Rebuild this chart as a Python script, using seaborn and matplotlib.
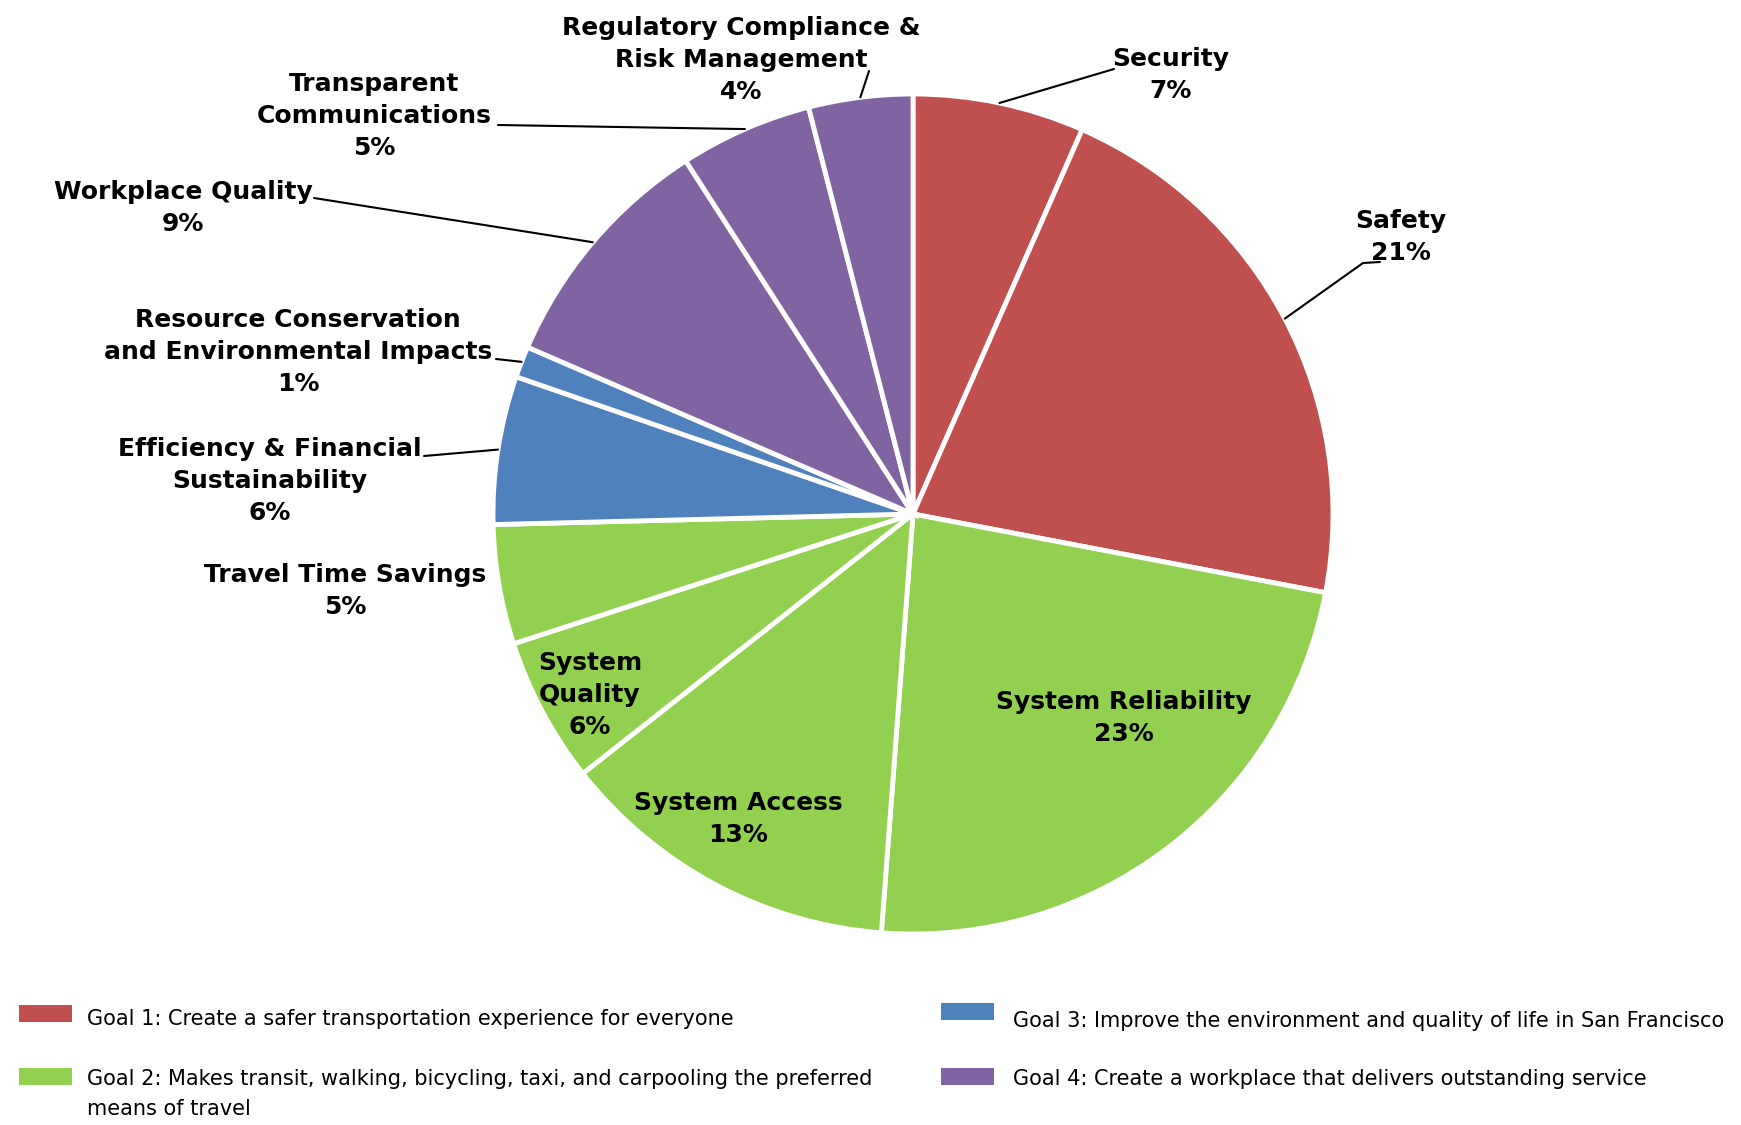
import matplotlib
matplotlib.use("Agg")
import matplotlib.pyplot as plt
from matplotlib.patches import Rectangle
import numpy as np
import seaborn as sns

# Category names and shares (percent), clockwise from 12 o'clock
categories = [
    "Security", "Safety", "System Reliability", "System Access",
    "System\nQuality", "Travel Time Savings",
    "Efficiency & Financial\nSustainability",
    "Resource Conservation\nand Environmental Impacts",
    "Workplace Quality", "Transparent\nCommunications",
    "Regulatory Compliance &\nRisk Management",
]
shares = [6.6, 21.4, 23.2, 13.2, 5.6, 4.6, 5.7, 1.2, 9.4, 5.1, 4.0]
goal_of = [1, 1, 2, 2, 2, 2, 3, 3, 4, 4, 4]

goal_labels = [
    "Goal 1: Create a safer transportation experience for everyone",
    "Goal 2: Makes transit, walking, bicycling, taxi, and carpooling the preferred\nmeans of travel",
    "Goal 3: Improve the environment and quality of life in San Francisco",
    "Goal 4: Create a workplace that delivers outstanding service",
]
goal_colors = {1: "#C0504D", 2: "#92D050", 3: "#4F81BD", 4: "#8064A2"}

sns.set_style("white")
plt.rcParams["font.family"] = ["DejaVu Sans"]

W, H = 1741, 1125
fig = plt.figure(figsize=(W / 100, H / 100), dpi=100)
ax = fig.add_axes([0, 0, 1, 1])


def Y(y):
    return H - y


cx, cy, r = 913, Y(514), 420
colors = [goal_colors[g] for g in goal_of]
wedges, _ = ax.pie(
    shares, colors=colors, startangle=90, counterclock=False,
    center=(cx, cy), radius=r, frame=True,
    wedgeprops=dict(edgecolor="white", linewidth=3.5),
)
ax.set_xlim(0, W)
ax.set_ylim(0, H)
ax.set_aspect("equal")
ax.set_axis_off()

# label text anchor (centre of text block) and optional leader line start
label_pos = [
    (1171, 75), (1401, 237), (1124, 718), (738, 819), (590, 695),
    (345, 591), (270, 481), (298, 352), (183, 208), (374, 116), (741, 60),
]
leader_from = {
    0: [(1114, 69)],
    1: [(1380, 262), (1363, 263)],
    6: [(424, 456)],
    7: [(496, 359)],
    8: [(314, 198)],
    9: [(498, 125)],
    10: [(869, 71)],
}

for i, (name, v) in enumerate(zip(categories, shares)):
    txt = f"{name}\n{round(v):.0f}%"
    x, y = label_pos[i]
    ax.text(x, Y(y), txt, ha="center", va="center", fontsize=18,
            fontweight="bold", linespacing=1.4, color="black")
    if i in leader_from:
        w = wedges[i]
        mid = np.deg2rad((w.theta1 + w.theta2) / 2)
        ex, ey = cx + r * np.cos(mid), cy + r * np.sin(mid)
        pts = [(px, Y(py)) for px, py in leader_from[i]] + [(ex, ey)]
        xs, ys = zip(*pts)
        ax.plot(xs, ys, color="black", lw=1.5)

# goal legend
legend_items = [
    (19, 1005, 87, 1019),
    (19, 1068, 87, 1094),
    (941, 1003, 1013, 1021),
    (941, 1068, 1013, 1079),
]
for (px, py, tx, ty), g, lab in zip(legend_items, [1, 2, 3, 4], goal_labels):
    ax.add_patch(Rectangle((px, Y(py + 17)), 53, 17, facecolor=goal_colors[g],
                           edgecolor="none"))
    ax.text(tx, Y(ty), lab, ha="left", va="center", fontsize=15,
            linespacing=1.6, color="black")

fig.savefig("out.png", dpi=100)
